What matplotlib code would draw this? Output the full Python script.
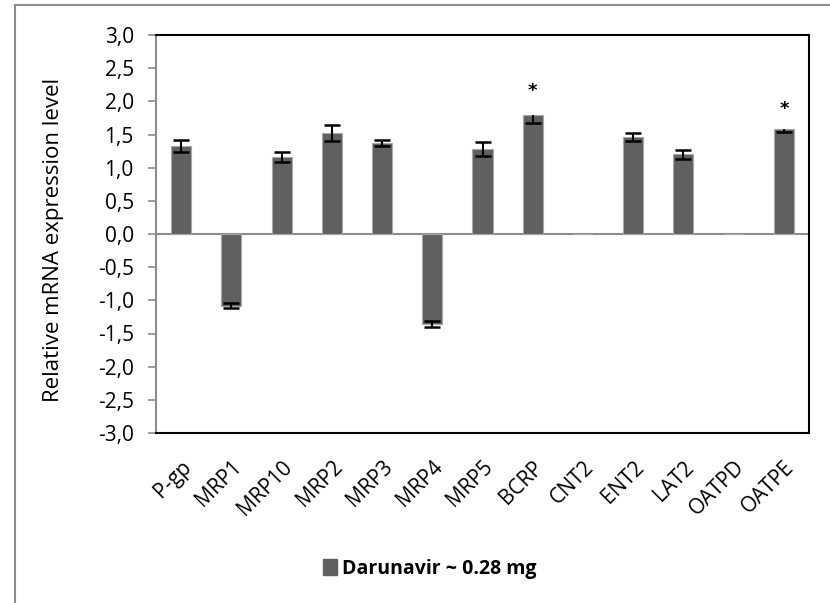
import numpy as np
import matplotlib.pyplot as plt
from matplotlib.lines import Line2D
from matplotlib.patches import Patch
import matplotlib.transforms as mtrans

plt.rcParams['font.family'] = ['Open Sans', 'DejaVu Sans']

# data
genes = ['P-gp', 'MRP1', 'MRP10', 'MRP2', 'MRP3', 'MRP4', 'MRP5',
         'BCRP', 'CNT2', 'ENT2', 'LAT2', 'OATPD', 'OATPE']
values = [1.33, -1.08, 1.16, 1.52, 1.37, -1.35, 1.28,
          1.80, 0.0, 1.46, 1.20, 0.0, 1.58]
err_low = [0.09, 0.04, 0.07, 0.12, 0.05, 0.045, 0.11,
           0.12, 0.0, 0.06, 0.07, 0.0, 0.04]
err_high = [0.09, 0.04, 0.07, 0.12, 0.05, 0.045, 0.11,
            0.0, 0.0, 0.06, 0.07, 0.0, 0.0]
star_genes = ['BCRP', 'OATPE']
star_y = [2.15, 1.88]
series_name = 'Darunavir ~ 0.28 mg'
yticks = np.arange(-3.0, 3.01, 0.5)

fig = plt.figure(figsize=(8.30, 6.03), dpi=100)
W, H = 830, 603

# outer chart frame
frame = [Line2D([15/W, 15/W], [0, 1 - 5/H]), Line2D([15/W, 1], [1 - 5/H, 1 - 5/H])]
for ln in frame:
    ln.set_color('#8c8c8c')
    ln.set_linewidth(1.5)
    fig.add_artist(ln)

ax = fig.add_axes([156/W, 1 - 433/H, (809 - 156)/W, (433 - 35)/H])
x = np.arange(len(genes))
v = np.array(values)
lo = np.array(err_low)
hi = np.array(err_high)
ax.bar(x, v, width=0.4, color='#606060', edgecolor='#a8a8a8', linewidth=0.8, zorder=2)
ax.axhline(0, color='#8c8c8c', linewidth=1.5, zorder=1)

# error bars: stems, then caps only where there is an error
has = (lo + hi) > 0
ax.vlines(x[has], (v - lo)[has], (v + hi)[has], color='black', linewidth=1.5, zorder=3)
ax.plot(x[lo > 0], (v - lo)[lo > 0], ls='none', marker='_', ms=12, mew=1.8, color='black', zorder=3)
ax.plot(x[hi > 0], (v + hi)[hi > 0], ls='none', marker='_', ms=12, mew=1.8, color='black', zorder=3)

for g, yy in zip(star_genes, star_y):
    ax.text(genes.index(g), yy, '*', ha='center', va='center', fontsize=13,
            fontweight='bold', family='DejaVu Sans')

ax.set_xlim(-0.5, len(genes) - 0.5)
ax.set_ylim(-3.0, 3.0)
ax.set_yticks(yticks)
ax.set_yticklabels([('%.1f' % t).replace('.', ',') for t in yticks], fontsize=15)
ax.set_xticks(x)
ax.set_xticklabels(genes, rotation=45, ha='right', rotation_mode='anchor', fontsize=15)
shift = mtrans.ScaledTranslation(5/100, 0, fig.dpi_scale_trans)
for lab in ax.get_xticklabels():
    lab.set_transform(lab.get_transform() + shift)
ax.tick_params(axis='x', length=0, pad=17)
ax.tick_params(axis='y', direction='out', length=6, color='#8c8c8c', width=1.2, pad=10)
ax.set_ylabel('Relative mRNA expression level', fontsize=16)
ax.yaxis.set_label_coords((64 - 156)/653, (433 - 240)/398)

for s in ['top', 'right', 'bottom']:
    ax.spines[s].set_color('black')
    ax.spines[s].set_linewidth(1.5)
ax.spines['left'].set_color('#8c8c8c')
ax.spines['left'].set_linewidth(1.5)

fig.legend(handles=[Patch(facecolor='#606060', edgecolor='#606060', label=series_name)],
           loc='center', bbox_to_anchor=(430/W, 1 - 569/H), frameon=False,
           prop={'weight': 'bold', 'size': 14}, handlelength=0.7, handleheight=0.9,
           handletextpad=0.3)

fig.savefig('out.png', dpi=100)
